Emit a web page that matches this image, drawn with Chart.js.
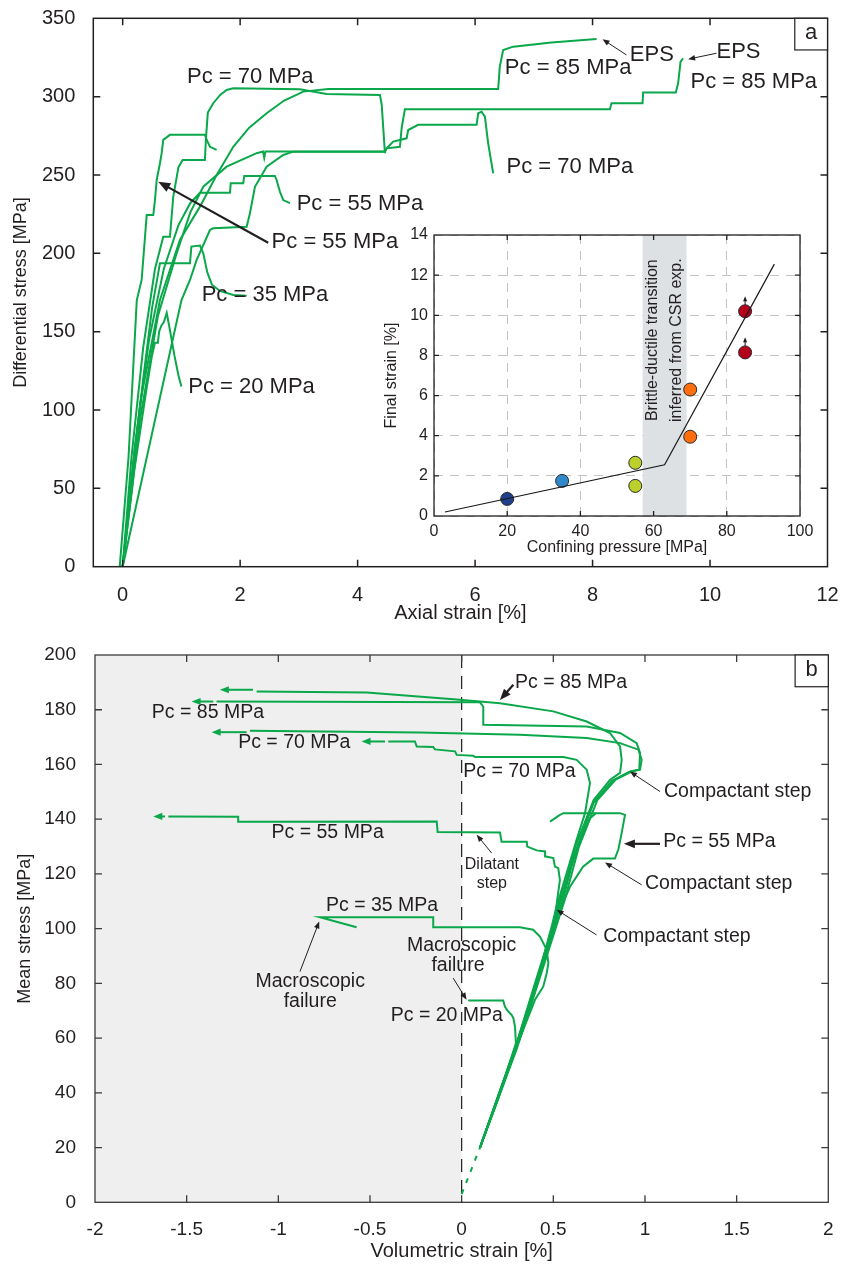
<!DOCTYPE html>
<html lang="en">
<head>
<meta charset="utf-8">
<title>Pc curves</title>
<script src="https://cdn.jsdelivr.net/npm/chart.js@4.4.1/dist/chart.umd.min.js"></script>
<style>
  body { margin: 0; background: #fff; }
  #quadro { position: relative; width: 842px; height: 1266px; }
  canvas { position: absolute; }
</style>
</head>
<body>
<div id="quadro">
  <canvas id="painelA" width="842" height="640" style="left:0;top:0"></canvas>
  <canvas id="painelB" width="842" height="626" style="left:0;top:640px"></canvas>
  <canvas id="detalhe" width="444" height="340" style="left:370px;top:222px"></canvas>
</div>
<script>
// ---------- painel a: deformacao axial [%] x tensao diferencial [MPa] ----------
var ticksAX = [0, 2, 4, 6, 8, 10, 12];
var ticksAY = [0, 50, 100, 150, 200, 250, 300, 350];

var a20 = [[0,0],[0.2,62],[0.4,112],[0.5,135],[0.55,143],[0.6,143],[0.62,150],[0.66,154],[0.7,156],[0.75,162],[0.8,152],[0.88,135],[0.95,122],[1.0,115]];
var a35 = [[0,0],[0.15,55],[0.35,120],[0.5,165],[0.635,193.7],[1.146,193.7],[1.17,204.3],[1.316,205],[1.372,200],[1.44,188],[1.52,180],[1.656,176],[1.883,173.4],[2.11,173]];
var a55a = [[0,0],[0.2,75],[0.45,145],[0.7,190],[0.95,218],[1.15,232],[1.316,238.6],[1.826,238.6],[1.84,244.7],[2.053,244.7],[2.07,249.4],[2.592,249.4],[2.62,246.8],[2.677,239.4],[2.734,234],[2.848,232]];
var a55b = [[-0.05,0],[0.1,70],[0.24,170],[0.323,183],[0.409,224.4],[0.521,224.4],[0.55,234],[0.579,246.8],[0.635,257.5],[0.664,263.9],[0.691,272.4],[0.805,275.6],[1.4,275.6],[1.43,272.5],[1.486,268],[1.6,266]];
var a70a = [[0,0],[0.15,70],[0.35,140],[0.55,190],[0.691,210.6],[0.805,210.6],[0.861,236],[0.95,255],[1.021,259.6],[1.4,259.6],[1.42,274.5],[1.45,289.8],[1.542,295.8],[1.66,301.1],[1.77,304.3],[1.883,305.3],[3.018,304.7],[3.472,301.7],[4.38,301.1],[4.41,295],[4.465,263.9]];
var a70b = [[0,0],[0.5,85],[1.0,170],[1.146,183],[1.26,195.8],[1.486,214.9],[1.542,216],[2.111,217],[2.167,225.6],[2.252,242.5],[2.451,255.3],[2.734,262.8],[2.904,264.9],[4.465,264.9],[4.494,267],[4.606,271.3],[4.834,273.4],[4.861,278.7],[5.031,282],[6.026,282],[6.053,289.4],[6.111,290.4],[6.167,287.2],[6.223,270.2],[6.308,251.1]];
var a85a = [[0,0],[0.3,105],[0.635,170.2],[0.975,208.5],[1.316,229.8],[1.6,250],[1.883,268],[2.15,280],[2.451,289.4],[2.75,297.5],[3.074,303.2],[3.5,304.9],[6.393,304.9],[6.42,319],[6.478,329.8],[6.649,331.9],[7.3,334.5],[8.068,336.8]];
var a85b = [[0,0],[0.3,95],[0.6,160],[0.919,200],[1.15,226],[1.372,242.5],[1.77,255.3],[2.281,263.9],[2.39,265],[2.41,261],[2.43,265],[4.465,265],[4.494,267],[4.72,268],[4.75,280],[4.805,292],[8.295,292],[8.323,295.8],[8.851,295.8],[8.861,302.6],[9.417,302.6],[9.457,308.5],[9.498,322.3],[9.542,324.5]];
var curvasA = [a20, a35, a55a, a55b, a70a, a70b, a85a, a85b];

// ---------- detalhe: deformacao final x pressao confinante ----------
var ticksDX = [0, 20, 40, 60, 80, 100];
var ticksDY = [0, 2, 4, 6, 8, 10, 12, 14];
var pressaoConf = [20, 35, 55, 55, 70, 70, 85, 85];
var deformFinal = [0.85, 1.75, 2.65, 1.5, 6.3, 3.95, 10.2, 8.15];
var ajusteX = [3, 63, 93];
var ajusteY = [0.2, 2.55, 12.55];
var faixaCSR = [57, 69];

// ---------- painel b: deformacao volumetrica [%] x tensao media [MPa] ----------
var ticksBX = [-2, -1.5, -1, -0.5, 0, 0.5, 1, 1.5, 2];
var ticksBY = [0, 20, 40, 60, 80, 100, 120, 140, 160, 180, 200];

var inicioB = [[0,3],[0.1,20]];
var b20 = [[0.1,20],[0.2,38],[0.296,58.1],[0.291,64.2],[0.282,67.3],[0.273,68.4],[0.25,70],[0.236,71.5],[0.227,73.7],[0.036,73.7]];
var b35 = [[0.1,20],[0.3,57],[0.4,74],[0.445,78.8],[0.464,83.7],[0.473,87.4],[0.464,92.3],[0.427,97.1],[0.39,99.6],[0.318,100.5],[-0.151,100.5],[-0.155,104.2],[-0.773,104.2],[-0.573,100.5]];
var b55a = [[0.1,20],[0.3,57],[0.42,82],[0.5,100],[0.536,117.8],[0.527,122.1],[0.509,122.7],[0.5,125.8],[0.46,126.4],[0.455,128.2],[0.409,128.6],[0.358,130],[0.355,131.8],[0.218,131.8],[0.209,135.1],[-0.131,135.3],[-0.136,139.2],[-1.219,139.1],[-1.219,140.9],[-1.6,141]];
var b55b = [[0.1,20],[0.3,58],[0.4,78],[0.482,98.5],[0.536,106.9],[0.591,115.3],[0.662,122.6],[0.718,125.6],[0.836,125.6],[0.855,129],[0.873,135],[0.891,141.6],[0.864,142.2],[0.555,142.2],[0.536,141.6],[0.482,139.1]];
var b55c = [[0.1,20],[0.35,66],[0.45,88],[0.536,110.6],[0.591,121.5],[0.645,131.4],[0.7,140.4],[0.73,142]];
var b70a = [[0.1,20],[0.3,56],[0.45,87],[0.56,110],[0.64,130],[0.74,147],[0.84,154.5],[0.93,157.5],[0.973,158.1],[0.982,161.7],[0.964,165.4],[0.864,167.8],[0.682,169.7],[0.318,170.9],[-0.228,171.7],[-1.155,172.3]];
var b70b = [[0.1,20],[0.3,58],[0.4,80],[0.47,95],[0.518,108.1],[0.573,120.3],[0.627,132.5],[0.673,142.2],[0.7,153.2],[0.682,158.1],[0.627,161.7],[0.555,162.7],[0.073,162.7],[0.063,163.2],[-0.027,163.5],[-0.036,164.8],[-0.146,165.5],[-0.155,166.4],[-0.245,166.6],[-0.255,168.4],[-0.4,168.4]];
var b85a = [[0.1,20],[0.3,58],[0.45,90],[0.55,112],[0.62,130],[0.72,147],[0.81,154.4],[0.864,156.9],[0.873,161.7],[0.864,166.6],[0.809,171.5],[0.682,175.7],[0.5,179.4],[0.209,182.4],[-0.027,183.7],[-0.518,186.3],[-1.118,186.7]];
var b85b = [[0.1,20],[0.3,57],[0.45,88],[0.55,110],[0.62,128],[0.72,146],[0.82,154],[0.918,157.4],[0.969,158.1],[0.973,164.2],[0.955,167.8],[0.864,171.5],[0.682,173.9],[0.118,174.5],[0.118,181.1],[0.1,182.7],[-1.337,183]];
var curvasB = [b20, b35, b55a, b55b, b55c, b70a, b70b, b85a, b85b];
// setas verdes na ponta esquerda: [cauda, ponta, y]
var setasVerdes = [[-1.138,-1.319,187.3],[-1.355,-1.473,183],[-1.173,-1.364,171.8],[-0.418,-0.546,168.4],[-1.618,-1.682,141]];

// ---------- estilo ----------
var fonte = '"Liberation Sans", Arial, Helvetica, sans-serif';
var corTexto = '#231f20';
var verde = '#0aa84a';
var coresPontos = ['#1d3f8c', '#2f88c8', '#bcd02c', '#bcd02c', '#ff6e0e', '#ff6e0e', '#b3001b', '#b3001b'];

// anotacoes (coordenadas em unidades dos eixos)
var notasA = [
	['Pc = 70 MPa', 1.095, 312.6], ['Pc = 85 MPa', 6.507, 318.3], ['EPS', 8.635, 326.6],
	['EPS', 10.11, 328.5], ['Pc = 85 MPa', 9.668, 309.6], ['Pc = 70 MPa', 6.536, 255.3],
	['Pc = 55 MPa', 2.962, 231.5], ['Pc = 55 MPa', 2.536, 207.1], ['Pc = 35 MPa', 1.345, 173.4],
	['Pc = 20 MPa', 1.117, 114.9]
];
var setasA = [[8.578,326.6,8.17,336.6,1,7], [10.11,327.7,9.627,323.9,1,7], [2.478,206.8,0.606,245.7,2.2,12]];
var notasB = [
	['Pc = 85 MPa', 0.291, 189.8], ['Pc = 85 MPa', -1.69, 178.8], ['Pc = 70 MPa', -1.219, 168.0],
	['Pc = 70 MPa', 0.009, 157.4], ['Compactant step', 1.104, 150.1], ['Pc = 55 MPa', 1.1, 131.8],
	['Compactant step', 1.0, 116.6], ['Compactant step', 0.772, 97.1], ['Pc = 55 MPa', -1.037, 135.1],
	['Dilatant', 0.165, 123.4, 16, 'center'], ['step', 0.165, 116.6, 16, 'center'],
	['Pc = 35 MPa', -0.74, 108.3],
	['Macroscopic', -0.826, 80.7, 19.5, 'center'], ['failure', -0.826, 73.3, 19.5, 'center'],
	['Macroscopic', 0.0, 93.7, 19.5, 'center'], ['failure', -0.02, 86.4, 19.5, 'center'],
	['Pc = 20 MPa', -0.387, 68.1]
];
var setasB = [
	[0.282,189.1,0.209,183.6,2.2,11], [1.082,150.1,0.918,157.4,1,7], [1.082,131.0,0.885,131.0,2.2,11],
	[0.982,116.0,0.782,124.2,1,7], [0.736,97.7,0.518,106.9,1,7], [0.164,127.6,0.082,134.3,1,7],
	[-0.882,84.3,-0.777,102.6,1,7], [-0.046,81.9,0.027,74.0,1,7]
];
var notasD = [
	['Brittle-ductile transition', 59.84, 8.76, 16, 'center', -Math.PI / 2],
	['inferred from CSR exp.', 66.4, 8.76, 16, 'center', -Math.PI / 2]
];
var setasD = [[85,10.52,85,10.95,1,5], [85,8.47,85,8.9,1,5]];

// ---------- funcoes de desenho ----------
function moldura(chart, tam, cor, larg) {
	var ctx = chart.ctx, a = chart.chartArea, sx = chart.scales.x, sy = chart.scales.y;
	ctx.save();
	ctx.strokeStyle = cor;
	ctx.lineWidth = larg;
	ctx.beginPath();
	sx.ticks.forEach(function (t) {
		var p = sx.getPixelForValue(t.value);
		if (p - a.left < 2 || a.right - p < 2) return;
		ctx.moveTo(p, a.bottom); ctx.lineTo(p, a.bottom - tam);
		ctx.moveTo(p, a.top); ctx.lineTo(p, a.top + tam);
	});
	sy.ticks.forEach(function (t) {
		var p = sy.getPixelForValue(t.value);
		if (p - a.top < 2 || a.bottom - p < 2) return;
		ctx.moveTo(a.left, p); ctx.lineTo(a.left + tam, p);
		ctx.moveTo(a.right, p); ctx.lineTo(a.right - tam, p);
	});
	ctx.stroke();
	ctx.strokeRect(a.left, a.top, a.right - a.left, a.bottom - a.top);
	ctx.restore();
}

function textos(chart, lista, tamPadrao) {
	var ctx = chart.ctx, sx = chart.scales.x, sy = chart.scales.y;
	ctx.save();
	ctx.fillStyle = corTexto;
	ctx.textBaseline = 'middle';
	lista.forEach(function (n) {
		ctx.font = (n[3] || tamPadrao) + 'px ' + fonte;
		ctx.textAlign = n[4] || 'left';
		ctx.save();
		ctx.translate(sx.getPixelForValue(n[1]), sy.getPixelForValue(n[2]));
		if (n[5]) ctx.rotate(n[5]);
		ctx.fillText(n[0], 0, 0);
		ctx.restore();
	});
	ctx.restore();
}

function seta(ctx, x0, y0, x1, y1, cab, larg) {
	var ang = Math.atan2(y1 - y0, x1 - x0), c = Math.cos(ang), s = Math.sin(ang);
	ctx.lineWidth = larg;
	ctx.beginPath();
	ctx.moveTo(x0, y0);
	ctx.lineTo(x1 - c * cab * 0.8, y1 - s * cab * 0.8);
	ctx.stroke();
	ctx.beginPath();
	ctx.moveTo(x1, y1);
	ctx.lineTo(x1 - c * cab - s * cab * 0.4, y1 - s * cab + c * cab * 0.4);
	ctx.lineTo(x1 - c * cab + s * cab * 0.4, y1 - s * cab - c * cab * 0.4);
	ctx.closePath();
	ctx.fill();
}

function setas(chart, lista, cor) {
	var ctx = chart.ctx, sx = chart.scales.x, sy = chart.scales.y;
	ctx.save();
	ctx.strokeStyle = cor;
	ctx.fillStyle = cor;
	lista.forEach(function (s) {
		seta(ctx, sx.getPixelForValue(s[0]), sy.getPixelForValue(s[1]), sx.getPixelForValue(s[2]), sy.getPixelForValue(s[3]), s[5], s[4]);
	});
	ctx.restore();
}

function caixa(chart, x0, x1, y0, y1, t) {
	var ctx = chart.ctx, sx = chart.scales.x, sy = chart.scales.y;
	var l = sx.getPixelForValue(x0), r = sx.getPixelForValue(x1), tp = sy.getPixelForValue(y1), b = sy.getPixelForValue(y0);
	ctx.save();
	ctx.fillStyle = '#fff';
	ctx.fillRect(l, tp, r - l, b - tp);
	ctx.strokeStyle = corTexto;
	ctx.lineWidth = 1.2;
	ctx.strokeRect(l, tp, r - l, b - tp);
	ctx.fillStyle = corTexto;
	ctx.font = '22px ' + fonte;
	ctx.textAlign = 'center';
	ctx.textBaseline = 'middle';
	ctx.fillText(t, (l + r) / 2, (tp + b) / 2 - 1);
	ctx.restore();
}

function eixo(min, max, ticks, tamFonte, padTick, titulo, tamTitulo, padTitulo, espessura, horizontal) {
	return {
		type: 'linear', min: min, max: max,
		afterBuildTicks: function (s) { s.ticks = ticks.map(function (v) { return { value: v }; }); },
		afterFit: function (s) {
			if (horizontal) s.height = espessura; else s.width = espessura;
			// a area do grafico fica presa ao layout.padding
			s.paddingTop = s.paddingBottom = s.paddingLeft = s.paddingRight = 0;
		},
		grid: { display: false },
		border: { display: false },
		ticks: {
			autoSkip: false, maxRotation: 0, padding: padTick, color: corTexto,
			font: { family: fonte, size: tamFonte },
			callback: function (v) { return String(v); }
		},
		title: { display: true, text: titulo, color: corTexto, font: { family: fonte, size: tamTitulo }, padding: padTitulo }
	};
}

function linhaVerde(c) {
	return {
		data: c.map(function (p) { return { x: p[0], y: p[1] }; }),
		showLine: true, borderColor: verde, borderWidth: 2, pointRadius: 0, fill: false, tension: 0
	};
}

var semLegenda = { legend: { display: false }, tooltip: { enabled: false } };

// ---------- painel a ----------
new Chart(document.getElementById('painelA'), {
	type: 'scatter',
	data: { datasets: curvasA.map(linhaVerde) },
	options: {
		responsive: false, animation: false, devicePixelRatio: 1,
		layout: { padding: { top: 18.3, right: 14.5, left: 0, bottom: 0 } },
		plugins: semLegenda,
		scales: {
			x: eixo(-0.5, 12, ticksAX, 20, 8.3, 'Axial strain [%]', 20, { bottom: 14.7 }, 73.3, true),
			y: eixo(0, 350, ticksAY, 20, 10, 'Differential stress [MPa]', 18, { top: 10.2 }, 93.3, false)
		}
	},
	plugins: [{
		id: 'notasA',
		afterDatasetsDraw: function (chart) {
			moldura(chart, 7, corTexto, 1.5);
			textos(chart, notasA, 22);
			setas(chart, setasA, corTexto);
			caixa(chart, 11.443, 12, 329.8, 350, 'a');
		}
	}]
});

// ---------- detalhe ----------
var eixoDX = eixo(0, 100, ticksDX, 16, 6, 'Confining pressure [MPa]', 16, { bottom: 4.4 }, 46, true);
var eixoDY = eixo(0, 14, ticksDY, 16, 6, 'Final strain [%]', 16, { top: 12 }, 64, false);
[eixoDX, eixoDY].forEach(function (e) {
	e.grid = { display: true, color: '#c4c4c4', lineWidth: 1, drawTicks: false };
	e.border = { display: false, dash: [9, 7] };
});

new Chart(document.getElementById('detalhe'), {
	type: 'scatter',
	data: {
		datasets: [{
			data: ajusteX.map(function (v, i) { return { x: v, y: ajusteY[i] }; }),
			showLine: true, borderColor: '#1a1a1a', borderWidth: 1.2, pointRadius: 0, tension: 0
		}, {
			data: pressaoConf.map(function (v, i) { return { x: v, y: deformFinal[i] }; }),
			showLine: false, pointRadius: 6.5, pointBackgroundColor: coresPontos,
			pointBorderColor: '#2a2a2a', pointBorderWidth: 1
		}]
	},
	options: {
		responsive: false, animation: false, devicePixelRatio: 1,
		layout: { padding: { top: 13, right: 14, left: 0, bottom: 0 } },
		plugins: semLegenda,
		scales: { x: eixoDX, y: eixoDY }
	},
	plugins: [{
		id: 'fundoD',
		beforeDraw: function (chart) {
			var a = chart.chartArea, ctx = chart.ctx;
			ctx.save();
			ctx.fillStyle = '#fff';
			ctx.fillRect(a.left, a.top, a.right - a.left, a.bottom - a.top);
			ctx.restore();
		},
		beforeDatasetsDraw: function (chart) {
			var a = chart.chartArea, ctx = chart.ctx, sx = chart.scales.x;
			var l = sx.getPixelForValue(faixaCSR[0]), r = sx.getPixelForValue(faixaCSR[1]);
			ctx.save();
			ctx.fillStyle = '#dde1e4';
			ctx.fillRect(l, a.top, r - l, a.bottom - a.top);
			ctx.restore();
			textos(chart, notasD, 16);
		},
		afterDatasetsDraw: function (chart) {
			setas(chart, setasD, '#1a1a1a');
			moldura(chart, 5, corTexto, 1.3);
		}
	}]
});

// ---------- painel b ----------
var dadosB = curvasB.map(linhaVerde);
var tracejado = linhaVerde(inicioB);
tracejado.borderDash = [5, 7];
dadosB.push(tracejado);

new Chart(document.getElementById('painelB'), {
	type: 'scatter',
	data: { datasets: dadosB },
	options: {
		responsive: false, animation: false, devicePixelRatio: 1,
		layout: { padding: { top: 15, right: 13.7, left: 0, bottom: 0 } },
		plugins: semLegenda,
		scales: {
			x: eixo(-2, 2, ticksBX, 19, 8.3, 'Volumetric strain [%]', 20, { bottom: 3 }, 63.7, true),
			y: eixo(0, 200, ticksBY, 19, 11, 'Mean stress [MPa]', 18, { top: 14 }, 95, false)
		}
	},
	plugins: [{
		id: 'notasB',
		beforeDatasetsDraw: function (chart) {
			var a = chart.chartArea, ctx = chart.ctx, sx = chart.scales.x;
			var zero = sx.getPixelForValue(0);
			ctx.save();
			ctx.fillStyle = '#efefef';
			ctx.fillRect(a.left, a.top, zero - a.left, a.bottom - a.top);
			ctx.strokeStyle = corTexto;
			ctx.lineWidth = 1.2;
			ctx.setLineDash([13, 8]);
			ctx.beginPath();
			ctx.moveTo(zero, a.top);
			ctx.lineTo(zero, a.bottom);
			ctx.stroke();
			ctx.restore();
		},
		afterDatasetsDraw: function (chart) {
			setas(chart, setasVerdes.map(function (s) { return [s[0], s[2], s[1], s[2], 2, 9]; }), verde);
			moldura(chart, 7, '#3a3a3a', 1.3);
			textos(chart, notasB, 19.5);
			setas(chart, setasB, corTexto);
			caixa(chart, 1.819, 2, 188.4, 200, 'b');
		}
	}]
});
</script>
</body>
</html>
